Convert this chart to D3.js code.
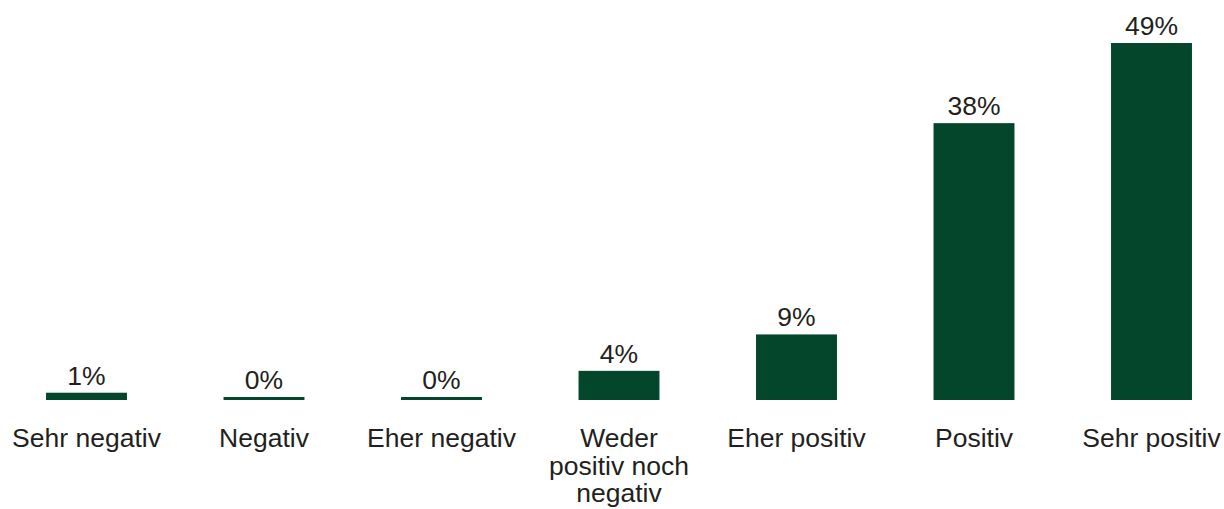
<!DOCTYPE html>
<html>
<head>
<meta charset="utf-8">
<script src="https://cdn.jsdelivr.net/npm/d3@7"></script>
<style>
  html, body { margin: 0; padding: 0; background: #ffffff; }
  svg { display: block; }
  text { font-family: "Liberation Sans", Arial, Helvetica, sans-serif; fill: #231f20; }
</style>
</head>
<body>
<svg id="chart" width="1224" height="509"></svg>
<script>
// Survey answers and their shares (percent)
const categories = ["Sehr negativ", "Negativ", "Eher negativ", "Weder positiv noch negativ", "Eher positiv", "Positiv", "Sehr positiv"];
const shares = [1, 0, 0, 4, 9, 38, 49];
const valueLabels = ["1%", "0%", "0%", "4%", "9%", "38%", "49%"];

const width = 1224, height = 509;
const baseline = 400;
const barColor = "#03462b";
const fontSize = 26.5;
const minBarHeight = 3; // keep zero-valued bars visible as a thin line

const svg = d3.select("#chart");

const x = d3.scaleBand()
  .domain(categories)
  .range([-2.25, 1240.25])
  .paddingInner(0.544)
  .paddingOuter(0.272);

const y = d3.scaleLinear()
  .domain([0, 49])
  .range([baseline, 43]);

const rows = categories.map((c, i) => ({ cat: c, v: shares[i], label: valueLabels[i] }));

// Bars
svg.append("g").selectAll("rect")
  .data(rows)
  .join("rect")
  .attr("x", d => x(d.cat))
  .attr("width", x.bandwidth())
  .attr("y", d => Math.min(y(d.v), baseline - minBarHeight))
  .attr("height", d => Math.max(baseline - y(d.v), minBarHeight))
  .attr("fill", barColor);

// Value labels above the bars
svg.append("g").selectAll("text")
  .data(rows)
  .join("text")
  .attr("x", d => x(d.cat) + x.bandwidth() / 2)
  .attr("y", d => Math.min(y(d.v), baseline - minBarHeight) - 8)
  .attr("text-anchor", "middle")
  .style("font-size", fontSize + "px")
  .text(d => d.label);

// Category axis (no line, no ticks), labels wrapped to a fixed width
const xAxis = d3.axisBottom(x).tickSize(0).tickPadding(0);
const axisG = svg.append("g")
  .attr("transform", `translate(0,${baseline})`)
  .call(xAxis);
axisG.select(".domain").remove();
axisG.selectAll("text")
  .attr("y", 47)
  .attr("dy", 0)
  .style("font-size", fontSize + "px")
  .style("font-family", "'Liberation Sans', Arial, Helvetica, sans-serif")
  .attr("fill", "#231f20")
  .call(wrap, 155);

function wrap(sel, maxWidth) {
  const lineHeight = 27.5;
  sel.each(function () {
    const t = d3.select(this);
    const words = t.text().split(/\s+/);
    const x0 = t.attr("x") || 0;
    const y0 = +t.attr("y");
    t.text(null);
    let line = [];
    let lineNo = 0;
    let tspan = t.append("tspan").attr("x", x0).attr("y", y0);
    for (const w of words) {
      line.push(w);
      tspan.text(line.join(" "));
      if (tspan.node().getComputedTextLength() > maxWidth && line.length > 1) {
        line.pop();
        tspan.text(line.join(" "));
        line = [w];
        lineNo++;
        tspan = t.append("tspan").attr("x", x0).attr("y", y0 + lineNo * lineHeight).text(w);
      }
    }
  });
}
</script>
</body>
</html>
